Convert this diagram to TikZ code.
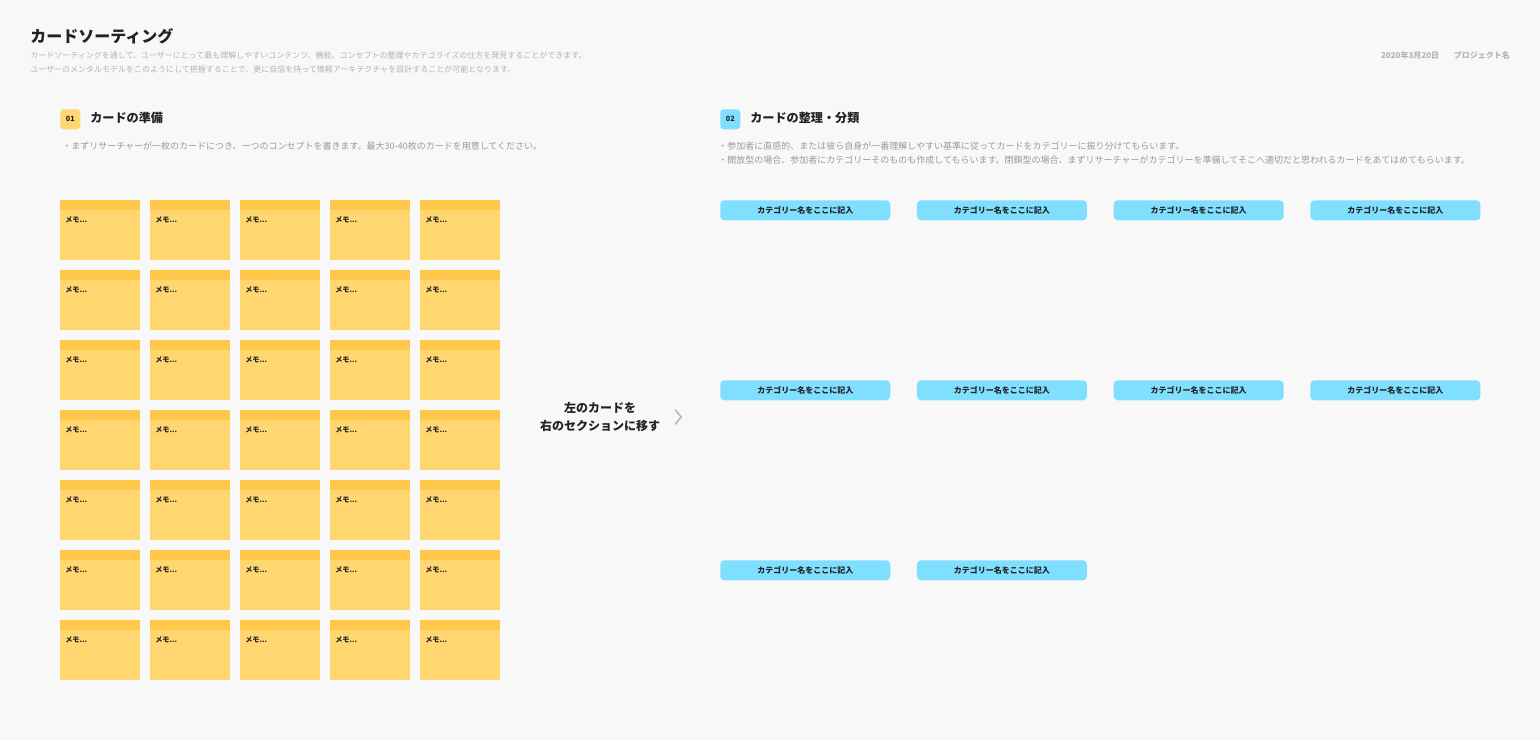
\documentclass[tikz,border=0pt]{standalone}
\usepackage{fontspec}
\setmainfont{Noto Sans CJK JP}
\usetikzlibrary{positioning,calc}

\definecolor{bgcol}{HTML}{F8F8F8}
\definecolor{inkcol}{HTML}{222222}
\definecolor{desccol}{HTML}{B3B3B3}
\definecolor{notecol}{HTML}{9A9A9A}
\definecolor{memotop}{HTML}{FFC84A}
\definecolor{memobody}{HTML}{FFD670}
\definecolor{catcol}{HTML}{80DFFF}

\tikzset{
    txt/.style={inner sep=0pt, anchor=west, text=inkcol},
    desc/.style={txt, text=desccol, font=\fontsize{6}{7}\selectfont},
    note/.style={txt, text=notecol, font=\fontsize{6.75}{8}\selectfont},
    heading/.style={txt, font=\fontsize{9.1}{11}\selectfont\bfseries},
    badge/.style={rectangle, rounded corners=2.5pt, minimum width=15pt, minimum height=15pt, inner sep=0pt, anchor=north west, font=\fontsize{5.4}{6}\selectfont\bfseries, text=inkcol},
    memo/.style={rectangle, fill=memobody, minimum width=60pt, minimum height=45pt, inner sep=0pt, outer sep=0pt, anchor=north west},
    catbox/.style={rectangle, fill=catcol, rounded corners=3pt, minimum width=127.5pt, minimum height=15pt, inner sep=0pt, anchor=north west, font=\fontsize{6}{6.5}\selectfont\bfseries, text=inkcol}
}

\begin{document}
\begin{tikzpicture}[x=0.75pt, y=-0.75pt]
    \fill[bgcol] (0,0) rectangle (1540,740);
    \useasboundingbox (0,0) rectangle (1540,740);

    % header
    \node[txt, font=\fontsize{12}{14}\selectfont\bfseries] (title) at (30,36) {カードソーティング};
    \node[desc] (desc1) at (30,55) {カードソーティングを通して、ユーザーにとって最も理解しやすいコンテンツ、機能、コンセプトの整理やカテゴライズの仕方を発見することができます。};
    \node[desc] (desc2) at (30,69) {ユーザーのメンタルモデルをこのようにして把握することで、更に自信を持って情報アーキテクチャを設計することが可能となります。};
    \node[note, anchor=east, font=\fontsize{6}{7}\selectfont\bfseries, text=desccol] (proj) at (1510,55) {プロジェクト名};
    \node[note, anchor=east, font=\fontsize{6}{7}\selectfont\bfseries, text=desccol, left=10.5pt of proj] (date) {2020年3月20日};

    % 01 cards
    \node[badge, fill=memobody] (b1) at (60,109) {01};
    \node[heading] (h1) at (90,118) {カードの準備};
    \node[note] (n1) at (62,146) {・まずリサーチャーが一枚のカードにつき、一つのコンセプトを書きます。最大30-40枚のカードを用意してください。};

    \foreach \r in {0,...,6} {
        \foreach \c in {0,...,4} {
            \node[memo] (memo-\r-\c) at ({60+90*\c},{200+70*\r}) {};
            \fill[memotop] (memo-\r-\c.north west) rectangle ($(memo-\r-\c.north east)+(0,10)$);
            \node[txt, font=\fontsize{5.4}{6}\selectfont\bfseries] at ($(memo-\r-\c.north west)+(5,20)$) {メモ...};
        }
    }

    % move hint
    \node[font=\fontsize{9}{13.5}\selectfont\bfseries, text=inkcol, align=center, inner sep=0pt] (move) at (600,417) {左のカードを\\右のセクションに移す};
    \draw[black!28, line width=1.2pt, line cap=round, line join=round] ($(move.east)+(15,-7)$) -- ($(move.east)+(21,0)$) -- ($(move.east)+(15,7)$);

    % 02 categories
    \node[badge, fill=catcol] (b2) at (720,109) {02};
    \node[heading] (h2) at (750,118) {カードの整理・分類};
    \node[note] (n2a) at (718,146) {・参加者に直感的、または彼ら自身が一番理解しやすい基準に従ってカードをカテゴリーに振り分けてもらいます。};
    \node[note] (n2b) at (718,160) {・開放型の場合、参加者にカテゴリーそのものも作成してもらいます。閉鎖型の場合、まずリサーチャーがカテゴリーを準備してそこへ適切だと思われるカードをあてはめてもらいます。};

    \foreach \r/\n in {0/4,1/4,2/2} {
        \foreach \c in {1,...,\n} {
            \node[catbox] (cat-\r-\c) at ({720+196.7*(\c-1)},{200+180*\r}) {カテゴリー名をここに記入};
        }
    }
\end{tikzpicture}
\end{document}
